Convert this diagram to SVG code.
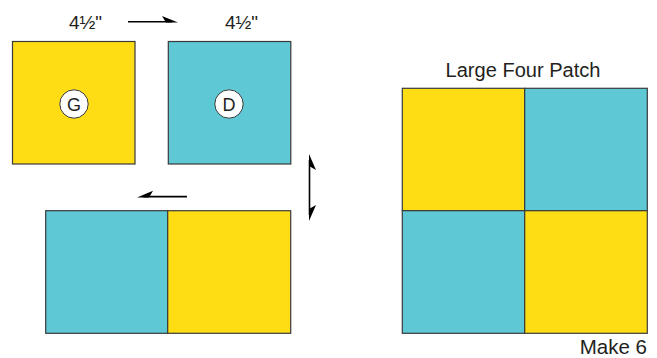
<svg xmlns="http://www.w3.org/2000/svg" width="657" height="358" viewBox="0 0 657 358">
<style>
.y{fill:#FFDD15;stroke:#3a3a3a;stroke-width:1.2}
.c{fill:#5EC8D4;stroke:#3a3a3a;stroke-width:1.2}
.t{font-family:"Myriad Pro","Liberation Sans",Arial,sans-serif;fill:#231f20}
.ln{stroke:#000;stroke-width:1.6;fill:none}
.hd{fill:#000}
</style>
<rect width="657" height="358" fill="#fff"/>
<g id="square-G">
<rect class="y" x="12.5" y="41.5" width="122.5" height="122.5"/>
<circle cx="74" cy="104" r="14.2" fill="#fff" stroke="#3a3a3a" stroke-width="1"/>
<text class="t" x="74" y="110.5" font-size="18" text-anchor="middle">G</text>
<text class="t" x="85.5" y="28.5" font-size="19" text-anchor="middle">4½"</text>
</g>
<g id="square-D">
<rect class="c" x="168.3" y="41.5" width="122.5" height="122.5"/>
<circle cx="229" cy="104" r="14.2" fill="#fff" stroke="#3a3a3a" stroke-width="1"/>
<text class="t" x="229" y="110.5" font-size="18" text-anchor="middle">D</text>
<text class="t" x="241.5" y="28.5" font-size="19" text-anchor="middle">4½"</text>
</g>
<g id="pair">
<rect class="c" x="45.7" y="210.7" width="122" height="122.6"/>
<rect class="y" x="167.7" y="210.7" width="123" height="122.6"/>
</g>
<g id="large-four-patch">
<rect class="y" x="402.3" y="88.3" width="122.4" height="122.4"/>
<rect class="c" x="524.7" y="88.3" width="122.6" height="122.4"/>
<rect class="c" x="402.3" y="210.7" width="122.4" height="122.6"/>
<rect class="y" x="524.7" y="210.7" width="122.6" height="122.6"/>
<text class="t" x="523" y="77" font-size="20" text-anchor="middle" textLength="155" lengthAdjust="spacingAndGlyphs">Large Four Patch</text>
<text class="t" x="647" y="353.5" font-size="20.5" text-anchor="end">Make 6</text>
</g>
<g id="connectors">
<line class="ln" x1="128" y1="21.8" x2="172" y2="21.8"/>
<polygon class="hd" points="178,22.6 162,16 166,22.6"/>
<line class="ln" x1="143" y1="196.6" x2="187" y2="196.6"/>
<polygon class="hd" points="137,197.4 153,190.8 149,197.4"/>
<line class="ln" x1="309.5" y1="160" x2="309.5" y2="215"/>
<polygon class="hd" points="309,154 316,170 309,166"/>
<polygon class="hd" points="309,221 316,205 309,209"/>
</g>
</svg>
